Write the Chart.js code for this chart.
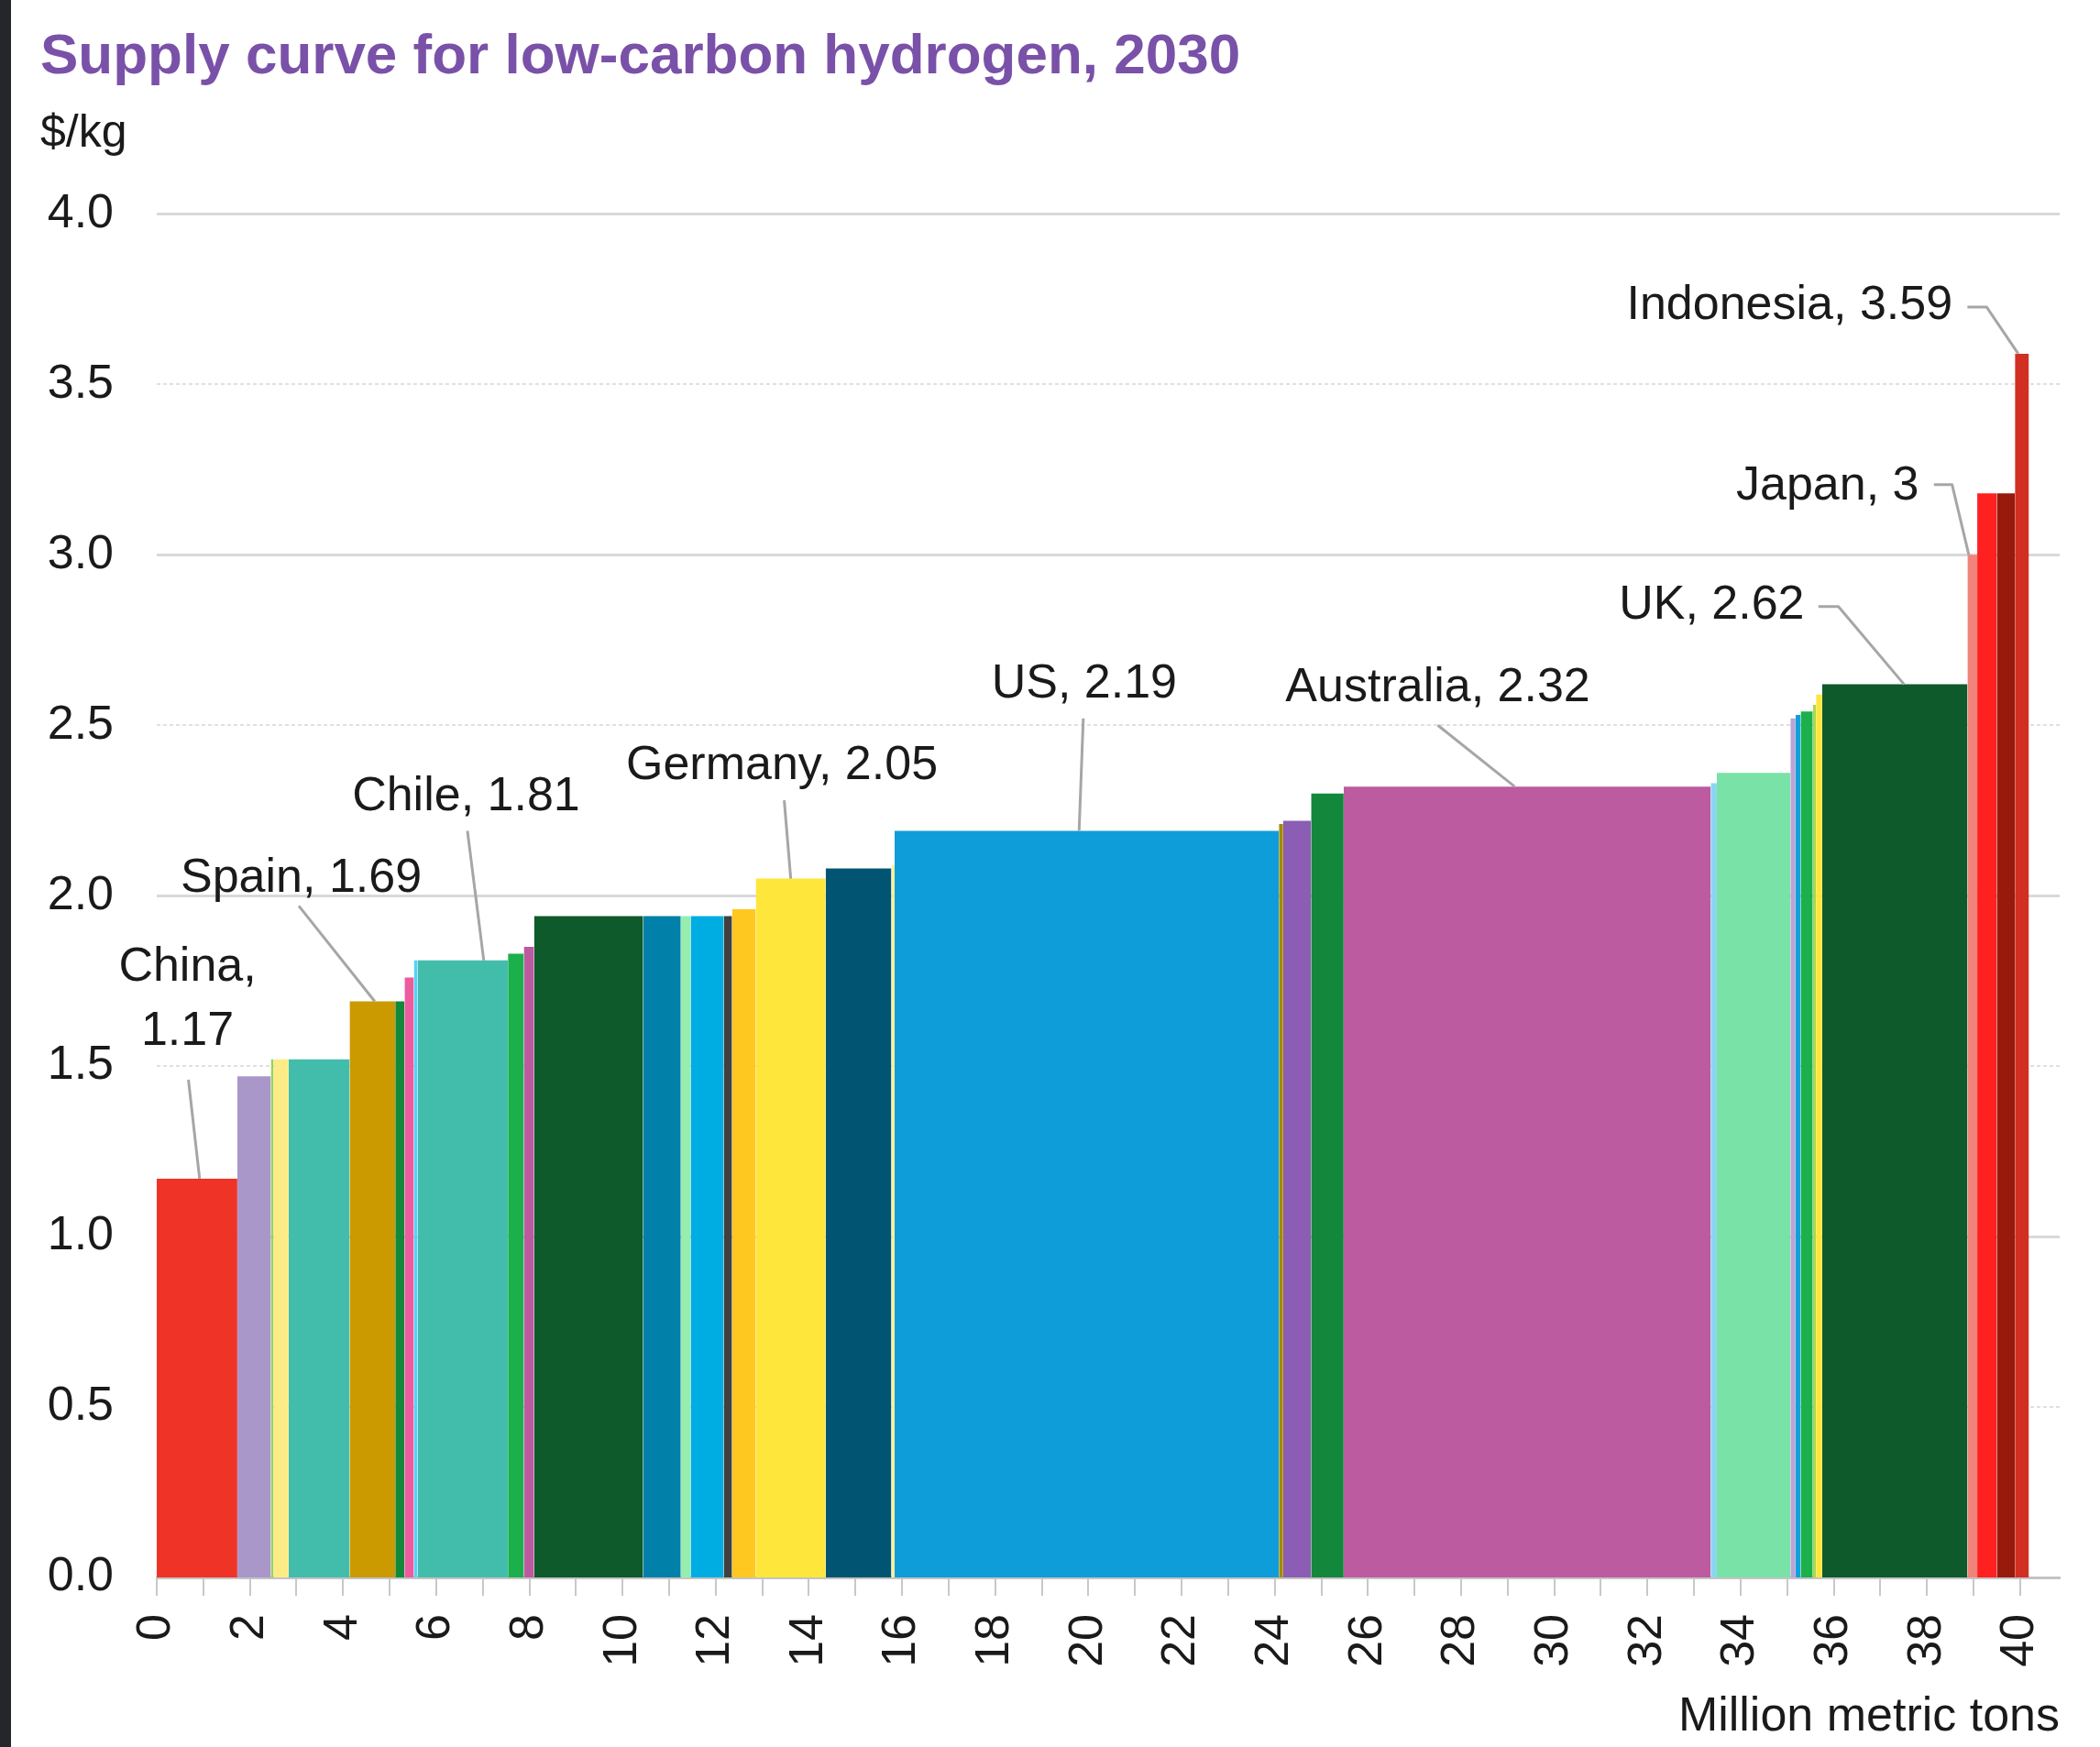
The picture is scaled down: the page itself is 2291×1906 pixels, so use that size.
<!DOCTYPE html>
<html>
<head>
<meta charset="utf-8">
<script src="https://cdn.jsdelivr.net/npm/chart.js@4.4.1/dist/chart.umd.min.js"></script>
<style>
html, body { margin: 0; padding: 0; background: #ffffff; overflow: hidden; }
#wrap { position: relative; width: 2291px; height: 1906px; background: #ffffff; }
#strip { position: absolute; left: 0; top: 0; width: 12px; height: 1906px; background: #25262b; }
canvas { display: block; }
</style>
</head>
<body>
<div id="wrap">
  <canvas id="chart" width="2291" height="1906"></canvas>
  <div id="strip"></div>
</div>
<script>
// ---------- DATA ----------
const titleText = 'Supply curve for low-carbon hydrogen, 2030';
const yUnit = '$/kg';
const xTitle = 'Million metric tons';

// one entry per supply block, in merit order
const producers = ['China', '', '', '', '', 'Spain', '', '', '', 'Chile',
                   '', '', '', '', '', '', '', '', 'Germany', '',
                   '', 'US', '', '', '', 'Australia', '', '', '', '',
                   '', '', '', 'UK', 'Japan', '', '', 'Indonesia'];
// supply volume of each block, million metric tons
const volumes = [1.73, 0.72, 0.06, 0.32, 1.31, 0.98, 0.20, 0.20, 0.08, 1.94,
                 0.34, 0.22, 2.34, 0.81, 0.21, 0.71, 0.18, 0.51, 1.50, 1.41,
                 0.07, 8.25, 0.09, 0.60, 0.70, 7.88, 0.13, 1.58, 0.11, 0.11,
                 0.26, 0.07, 0.13, 3.12, 0.21, 0.42, 0.39, 0.30];
// levelized cost, $/kg
const costs = [1.17, 1.47, 1.52, 1.52, 1.52, 1.69, 1.69, 1.76, 1.81, 1.81,
               1.83, 1.85, 1.94, 1.94, 1.94, 1.94, 1.94, 1.96, 2.05, 2.08,
               2.09, 2.19, 2.21, 2.22, 2.30, 2.32, 2.33, 2.36, 2.52, 2.53,
               2.54, 2.56, 2.59, 2.62, 3.00, 3.18, 3.18, 3.59];
const colors = ['#ef3326', '#aa97ca', '#9dd354', '#fdec85', '#43bdab', '#ca9a00', '#13873a', '#ee5b9f', '#55d3f5', '#43bdab',
                '#1bb04c', '#bc5aa0', '#0e5a2a', '#0180aa', '#96eeae', '#00ade2', '#404040', '#ffc820', '#ffe63b', '#025572',
                '#fdf09a', '#0f9dd9', '#a38b00', '#8b5db4', '#13873c', '#bc5ba0', '#8ad6f2', '#79e2a6', '#b6a5d6', '#10a0dd',
                '#1bb04c', '#a8d84e', '#ffe63b', '#0e5a2a', '#f2837a', '#ff2020', '#981a0c', '#d12f22'];

// axis ranges / ticks
const yMin = 0, yMax = 4, yStep = 0.5;
const xMin = 0, xMax = 40.85, xStep = 1;

// callout placement (data units)
const callouts = [
  { bar: 0,  split: true, x: 0.66,  y: [1.79, 1.60], align: 'center', leader: [[0.68, 1.46], [0.92]] },
  { bar: 5,  x: 3.10,  y: [2.05], align: 'center', leader: [[3.05, 1.97], [4.68]] },
  { bar: 9,  x: 6.64,  y: [2.29], align: 'center', leader: [[6.67, 2.19], [7.02]] },
  { bar: 18, x: 13.42, y: [2.38], align: 'center', leader: [[13.47, 2.28], [13.61]] },
  { bar: 21, x: 19.91, y: [2.62], align: 'center', leader: [[19.89, 2.52], [19.80]] },
  { bar: 25, x: 27.50, y: [2.61], align: 'center', leader: [[27.50, 2.50], [29.15]] },
  { bar: 33, x: 35.37, y: [2.85], align: 'right',  leader: [[35.67, 2.848], [36.10, 2.848], [37.51]] },
  { bar: 34, x: 37.83, y: [3.20], align: 'right',  leader: [[38.15, 3.206], [38.54, 3.206], [38.90]] },
  { bar: 37, x: 38.55, y: [3.73], align: 'right',  leader: [[38.87, 3.727], [39.28, 3.727], [39.96]] }
];

// ---------- BUILD ----------
const FONT = '"Liberation Sans", Arial, Helvetica, sans-serif';
Chart.defaults.font.family = FONT;
Chart.defaults.color = '#1a1a1a';

function hasFont(name) {
  const c = document.createElement('canvas').getContext('2d');
  const t = 'Supply curve for low-carbon hydrogen';
  c.font = '72px monospace';
  const a = c.measureText(t).width;
  c.font = '72px "' + name + '", monospace';
  const b = c.measureText(t).width;
  return Math.abs(a - b) > 1;
}
const narrow = hasFont('Liberation Sans Narrow');
const titleFont = narrow
  ? { family: '"Liberation Sans Narrow", ' + FONT, size: 72, weight: 'bold' }
  : { family: FONT, size: 62, weight: 'bold' };
const titlePad = narrow ? { top: 20, bottom: 0 } : { top: 26, bottom: 6 };

const starts = [];
volumes.reduce((acc, v, i) => { starts[i] = acc; return acc + v; }, 0);

const datasets = volumes.map((v, i) => ({
  label: producers[i] || ('block ' + (i + 1)),
  data: [
    { x: starts[i], y: 0 },
    { x: starts[i], y: costs[i] },
    { x: starts[i] + v, y: costs[i] },
    { x: starts[i] + v, y: 0 }
  ],
  backgroundColor: colors[i],
  borderColor: colors[i],
  borderWidth: 0,
  pointRadius: 0,
  tension: 0,
  fill: 'origin'
}));

const calloutPlugin = {
  id: 'callouts',
  afterDatasetsDraw(chart) {
    const { ctx, scales: { x, y } } = chart;
    ctx.save();
    callouts.forEach(co => {
      const pts = co.leader.map((p, k) => [p[0], p.length > 1 ? p[1] : costs[co.bar]]);
      ctx.beginPath();
      ctx.strokeStyle = '#a6a6a6';
      ctx.lineWidth = 3;
      ctx.lineJoin = 'round';
      pts.forEach(([vx, vy], k) => {
        const px = x.getPixelForValue(vx), py = y.getPixelForValue(vy);
        if (k) ctx.lineTo(px, py); else ctx.moveTo(px, py);
      });
      ctx.stroke();
      const lines = co.split
        ? [producers[co.bar] + ',', String(costs[co.bar])]
        : [producers[co.bar] + ', ' + String(costs[co.bar])];
      ctx.fillStyle = '#1a1a1a';
      ctx.font = '52px ' + FONT;
      ctx.textAlign = co.align;
      ctx.textBaseline = 'middle';
      lines.forEach((t, k) => ctx.fillText(t, x.getPixelForValue(co.x), y.getPixelForValue(co.y[k])));
    });
    ctx.restore();
  }
};

new Chart(document.getElementById('chart'), {
  type: 'line',
  data: { datasets },
  plugins: [calloutPlugin],
  options: {
    responsive: false,
    animation: false,
    events: [],
    layout: { padding: { top: 0, left: 44, right: 44, bottom: 0 } },
    plugins: {
      legend: { display: false },
      tooltip: { enabled: false },
      title: {
        display: true, text: titleText, align: 'start',
        color: '#7a51a8', font: titleFont, padding: titlePad
      },
      subtitle: {
        display: true, text: yUnit, align: 'start',
        color: '#1a1a1a', font: { family: FONT, size: 50 },
        padding: { top: 10, bottom: 57 }
      }
    },
    scales: {
      x: {
        type: 'linear', min: xMin, max: xMax,
        ticks: {
          stepSize: xStep, autoSkip: false, includeBounds: false,
          minRotation: 90, maxRotation: 90, padding: 20,
          color: '#1a1a1a', font: { size: 52 },
          callback: v => (v % 2 === 0 ? String(v) : '')
        },
        grid: { drawOnChartArea: false, drawTicks: true, tickLength: 20, color: '#c8c8c8', lineWidth: 2 },
        border: { display: true, color: '#c4c4c4', width: 3 },
        title: {
          display: true, text: xTitle, align: 'end', color: '#1a1a1a',
          font: { size: 52 }, padding: { top: 0, bottom: 1 }
        },
        afterFit(s) { s.height = 185; }
      },
      y: {
        min: yMin, max: yMax,
        ticks: {
          stepSize: yStep, padding: 47, color: '#1a1a1a', font: { size: 52 },
          callback: v => Number(v).toFixed(1)
        },
        grid: {
          drawTicks: false,
          color: c => (c.tick && Number.isInteger(c.tick.value)) ? '#d9d9d9' : '#e0e0e0',
          lineWidth: c => (c.tick && Number.isInteger(c.tick.value)) ? 3 : 2
        },
        border: {
          display: false,
          dash: c => (c.tick && Number.isInteger(c.tick.value)) ? [] : [4, 3]
        },
        afterFit(s) { s.width = 127; }
      }
    }
  }
});
</script>
</body>
</html>
